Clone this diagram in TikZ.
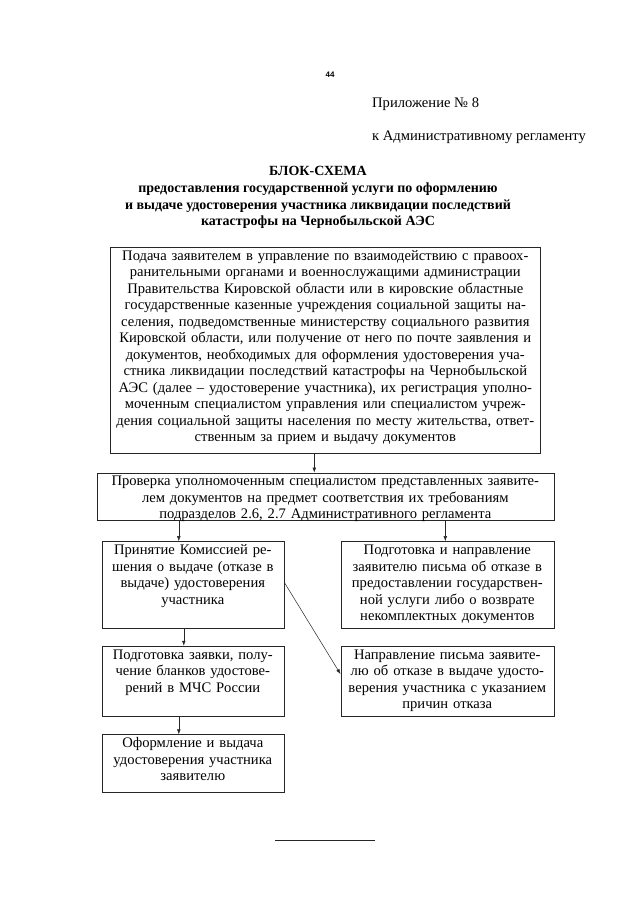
\documentclass[tikz,border=0pt]{standalone}
\usepackage{fontspec}
\setmainfont{Liberation Serif}
\newfontfamily\pagenumfont{Liberation Sans}
\usetikzlibrary{arrows.meta, positioning}

\begin{document}
\begin{tikzpicture}[
  x=1pt, y=1pt,
  node distance=18pt,
  box/.style={draw=black!85, line width=0.6pt, align=center,
    inner xsep=3pt, inner ysep=2pt, text height=11pt,
    font=\fontsize{14.6}{16.5}\selectfont},
  hdr/.style={inner sep=0pt, font=\fontsize{14.6}{16.5}\selectfont},
  arr/.style={-{Latex[length=5pt, width=3.6pt]}, line width=0.5pt, draw=black!85}
]
  \useasboundingbox (0,0) rectangle (640,-905);
  \fill[white] (0,0) rectangle (640,-905);

  % page head
  \node[font=\pagenumfont\bfseries\fontsize{8}{9}\selectfont] (pagenum) at (330,-75) {44};
  \node[hdr, anchor=base west] (annex) at (372,-107) {Приложение № 8};
  \node[hdr, anchor=base west] (reglament) at (372,-140) {к Административному регламенту};
  \node[hdr, anchor=north, align=center, font=\bfseries\fontsize{14}{16.8}\selectfont]
    (title) at (318,-166) {БЛОК-СХЕМА\\
    предоставления государственной услуги по оформлению\\
    и выдаче удостоверения участника ликвидации последствий\\
    катастрофы на Чернобыльской АЭС};

  % blocks
  \node[box, anchor=north west, text width=424pt, text depth=191pt]
    (submit) at (110,-247) {Подача заявителем в управление по взаимодействию с правоох-\\
    ранительными органами и военнослужащими администрации\\
    Правительства Кировской области или в кировские областные\\
    государственные казенные учреждения социальной защиты на-\\
    селения, подведомственные министерству социального развития\\
    Кировской области, или получение от него по почте заявления и\\
    документов, необходимых для оформления удостоверения уча-\\
    стника ликвидации последствий катастрофы на Чернобыльской\\
    АЭС (далее -- удостоверение участника), их регистрация уполно-\\
    моченным специалистом управления или специалистом учреж-\\
    дения социальной защиты населения по месту жительства, ответ-\\
    ственным за прием и выдачу документов};
  \node[box, text width=451pt, text depth=32pt, below=19pt of submit]
    (check) {Проверка уполномоченным специалистом представленных заявите-\\
    лем документов на предмет соответствия их требованиям\\
    подразделов 2.6, 2.7 Административного регламента};
  \node[box, text width=176pt, text depth=72pt,
    below right=21pt and 5pt of check.south west]
    (decide) {Принятие Комиссией ре-\\
    шения о выдаче (отказе в\\
    выдаче) удостоверения\\
    участника};
  \node[box, text width=207pt, text depth=72pt,
    below left=21pt and 0pt of check.south east]
    (refuse) {Подготовка и направление\\
    заявителю письма об отказе в\\
    предоставлении государствен-\\
    ной услуги либо о возврате\\
    некомплектных документов};
  \node[box, text width=176pt, text depth=55pt, below=17pt of decide]
    (prepare) {Подготовка заявки, полу-\\
    чение бланков удостове-\\
    рений в МЧС России};
  \node[box, text width=207pt, text depth=55pt, below=17pt of refuse]
    (letter) {Направление письма заявите-\\
    лю об отказе в выдаче удосто-\\
    верения участника с указанием\\
    причин отказа};
  \node[box, text width=176pt, text depth=43pt, below=18pt of prepare]
    (issue) {Оформление и выдача\\
    удостоверения участника\\
    заявителю};

  % connectors
  \draw[arr] ([xshift=-11pt]submit.south) -- ([xshift=-11pt]submit.south |- check.north);
  \draw[arr] ([xshift=-14pt]decide.north |- check.south) -- ([xshift=-14pt]decide.north);
  \draw[arr] ([xshift=-2pt]refuse.north |- check.south) -- ([xshift=-2pt]refuse.north);
  \draw[arr] ([xshift=-9pt]decide.south) -- ([xshift=-9pt]prepare.north);
  \draw[arr] ([xshift=-14pt]prepare.south) -- ([xshift=-14pt]issue.north);
  \draw[arr] ([yshift=3pt]decide.east) -- ([yshift=7pt]letter.west);

  % rule at the foot of the page
  \draw[line width=0.5pt, draw=black!85] (275,-840) -- (375,-840);
\end{tikzpicture}
\end{document}
